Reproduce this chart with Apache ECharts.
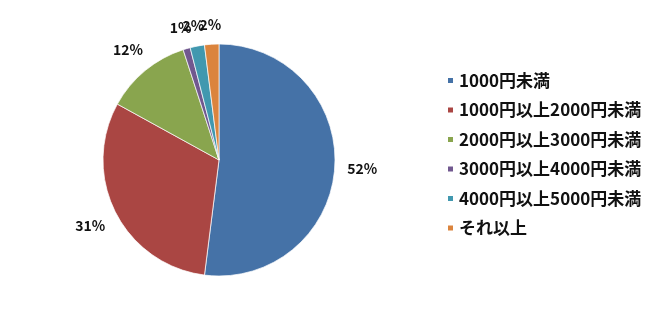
<!DOCTYPE html>
<html>
<head>
<meta charset="utf-8">
<script src="https://cdn.jsdelivr.net/npm/echarts@6/dist/echarts.min.js"></script>
<style>
html,body{margin:0;padding:0;background:#fff;}
#chart{width:666px;height:318px;}
</style>
</head>
<body>
<div id="chart"></div>
<script>
const categories = ['1000円未満','1000円以上2000円未満','2000円以上3000円未満','3000円以上4000円未満','4000円以上5000円未満','それ以上'];
const values = [52, 31, 12, 1, 2, 2];
const colors = ['#4572A7','#AA4643','#89A54E','#71588F','#4198AF','#DB843D'];

const CX = 219, CY = 160, R = 116, GAP = 12;
const FONT = '"Noto Sans CJK JP", "Noto Sans", sans-serif';

const chart = echarts.init(document.getElementById('chart'), null, {renderer:'canvas'});
chart.setOption({
  animation: false,
  backgroundColor: '#fff',
  color: colors,
  legend: {
    orient: 'vertical',
    left: 446,
    top: 72,
    padding: 0,
    itemWidth: 7,
    itemHeight: 7,
    itemGap: 12.5,
    icon: 'rect',
    data: categories,
    textStyle: {fontFamily: FONT, fontSize: 17, lineHeight: 17, fontWeight: 'bold', color: '#111'}
  },
  series: [{
    type: 'pie',
    center: [CX, CY],
    radius: R,
    startAngle: 90,
    clockwise: true,
    avoidLabelOverlap: false,
    emphasis: {disabled: true},
    itemStyle: {borderColor: '#fff', borderWidth: 0.7},
    data: categories.map((n, i) => ({name: n, value: values[i]})),
    label: {
      show: true,
      position: 'outside',
      formatter: '{c}%',
      fontFamily: FONT,
      fontSize: 14,
      fontWeight: 'bold',
      color: '#111'
    },
    labelLine: {show: true, length: 0, length2: 0, lineStyle: {opacity: 0, width: 0}},
    labelLayout: function (p) {
      const pts = p.labelLinePoints;
      if (!pts || !pts[0]) return {};
      let dx = pts[0][0] - CX, dy = pts[0][1] - CY;
      const len = Math.sqrt(dx * dx + dy * dy) || 1;
      dx /= len; dy /= len;
      const w = p.labelRect.width, h = p.labelRect.height;
      const ext = Math.abs(dx) * w / 2 + Math.abs(dy) * h / 2;
      const r = len + GAP + ext;
      return {x: CX + dx * r, y: CY + dy * r, align: 'center', verticalAlign: 'middle'};
    }
  }]
});
</script>
</body>
</html>
